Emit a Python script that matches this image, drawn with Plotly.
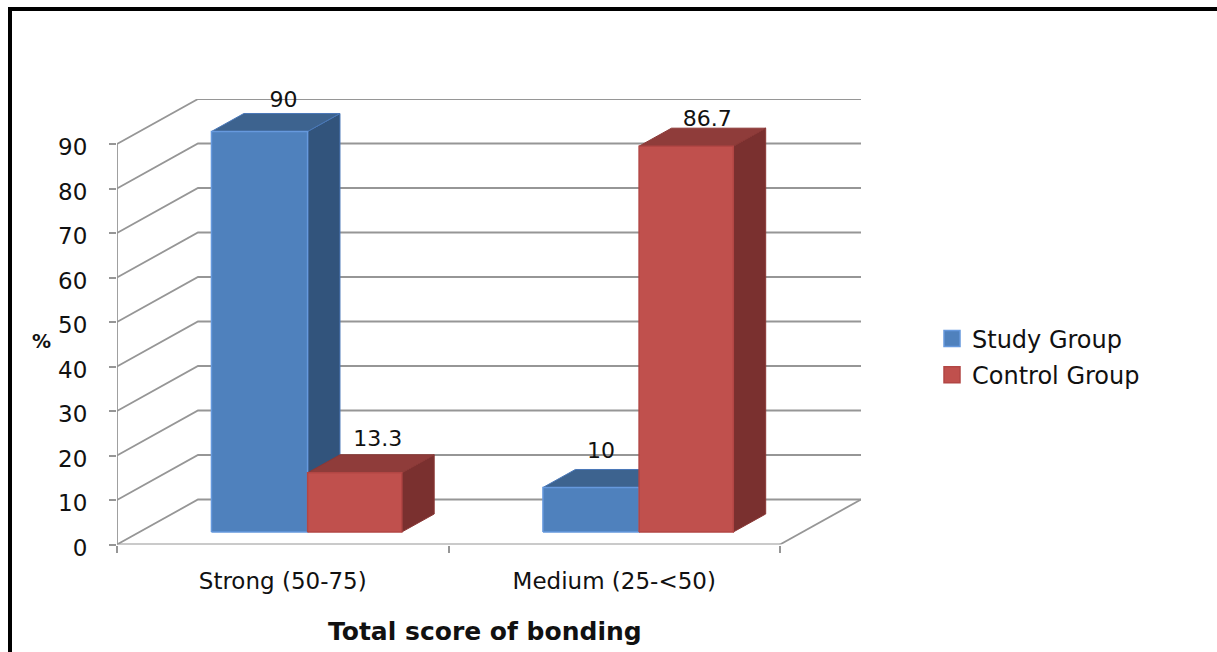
import plotly.graph_objects as go

# Chart data
categories = ["Strong (50-75)", "Medium (25-<50)"]
series_names = ["Study Group", "Control Group"]
study_values = [90, 10]
control_values = [13.3, 86.7]
value_ticks = [0, 10, 20, 30, 40, 50, 60, 70, 80, 90]

W, H = 1217, 652
FONT = "DejaVu Sans"
TEXT_SIZE = 23

# Pixel placement of the front plane of the axes
PLOT_LEFT, PLOT_BOTTOM = 117, 544.5
CAT_PX = 331.5
VAL_PX = 4.45

# Oblique projection: moving one depth unit shifts a point right and upward
DEPTH_X = 81 / CAT_PX
DEPTH_Y = 45 / VAL_PX
X_MAX = len(categories) + DEPTH_X
Y_MAX = max(value_ticks) + DEPTH_Y

# Bars occupy this slice of the floor depth, and this slice of each category
BAR_Z0, BAR_Z1 = 0.278, 0.678
BAR_START, BAR_WIDTH = 0.217, 0.29

BLUE = dict(front="#4F81BD", top="#3D638F", side="#32547C", edge="#6699DD", side_edge="#4A78B8")
RED = dict(front="#C0504D", top="#8F3C3A", side="#7A302F", edge="#B24644", side_edge="#8A3836")
GRID = "#969696"


def project(pos, value, z):
    return pos + z * DEPTH_X, value + z * DEPTH_Y


def polygon(points, fill, edge, width=1.5):
    xs, ys = zip(*[project(*p) for p in points + points[:1]])
    return go.Scatter(x=xs, y=ys, mode="lines", fill="toself", fillcolor=fill,
                      line=dict(color=edge, width=width), showlegend=False, hoverinfo="skip")


def box_faces(left, right, value, palette):
    """Side, top and front faces of one bar, painted back to front."""
    return [
        polygon([(right, 0, BAR_Z0), (right, 0, BAR_Z1), (right, value, BAR_Z1), (right, value, BAR_Z0)],
                palette["side"], palette["side_edge"], 1),
        polygon([(left, value, BAR_Z0), (left, value, BAR_Z1), (right, value, BAR_Z1), (right, value, BAR_Z0)],
                palette["top"], palette["side_edge"], 1),
        polygon([(left, 0, BAR_Z0), (right, 0, BAR_Z0), (right, value, BAR_Z0), (left, value, BAR_Z0)],
                palette["front"], palette["edge"], 1.5),
    ]


fig = go.Figure()

# Side wall and back wall gridlines
for v in value_ticks:
    xs, ys = zip(*[project(0, v, 0), project(0, v, 1), project(len(categories), v, 1)])
    fig.add_trace(go.Scatter(x=xs, y=ys, mode="lines", line=dict(color=GRID, width=1.8),
                             showlegend=False, hoverinfo="skip"))

# Right edge of the floor, then the two front axis lines
for a, b in [
    (project(len(categories), 0, 1), project(len(categories), 0, 0)),
    (project(0, 0, 0), project(len(categories), 0, 0)),
    (project(0, 0, 0), project(0, max(value_ticks), 0)),
]:
    fig.add_trace(go.Scatter(x=[a[0], b[0]], y=[a[1], b[1]], mode="lines",
                             line=dict(color=GRID, width=1.8), showlegend=False, hoverinfo="skip"))

# Bars, left to right
for i in range(len(categories)):
    left = i + BAR_START
    mid = left + BAR_WIDTH
    right = mid + BAR_WIDTH * 0.98
    for face in box_faces(left, mid, study_values[i], BLUE):
        fig.add_trace(face)
    for face in box_faces(mid, right, control_values[i], RED):
        fig.add_trace(face)

# Value labels, with per-bar nudges in pixels from the bar's front top centre
label_nudge_x = {"Study Group": [24, 10], "Control Group": [22, 20]}
label_nudge_y = {"Study Group": [30, 35], "Control Group": [32, 26]}
for s, (name, values) in enumerate(zip(series_names, [study_values, control_values])):
    lx, ly, txt = [], [], []
    for i, v in enumerate(values):
        cx, cy = project(i + BAR_START + BAR_WIDTH * (s + 0.5), v, BAR_Z0)
        lx.append(cx + label_nudge_x[name][i] / CAT_PX)
        ly.append(cy + label_nudge_y[name][i] / VAL_PX)
        txt.append(str(v))
    fig.add_trace(go.Scatter(x=lx, y=ly, mode="text", text=txt, textposition="middle center",
                             textfont=dict(family=FONT, size=TEXT_SIZE - 1, color="#111111"),
                             cliponaxis=False, showlegend=False, hoverinfo="skip"))

# Legend swatches
for name, palette in zip(series_names, [BLUE, RED]):
    fig.add_trace(go.Scatter(x=[None], y=[None], mode="markers", name=name, legendgroup=name,
                             marker=dict(symbol="square", size=16, color=palette["front"],
                                         line=dict(color=palette["edge"], width=1.5))))


def px(x):
    return x / W


def py(y):
    return 1 - y / H


fig.update_layout(
    width=W, height=H,
    margin=dict(l=0, r=0, t=0, b=0, autoexpand=False),
    paper_bgcolor="white", plot_bgcolor="white",
    font=dict(family=FONT, size=TEXT_SIZE, color="#111111"),
    xaxis=dict(
        domain=[px(PLOT_LEFT), px(PLOT_LEFT + X_MAX * CAT_PX)],
        range=[0, X_MAX],
        showgrid=False, zeroline=False, showline=False,
        tickvals=[i + 0.5 for i in range(len(categories))],
        ticktext=categories, ticks="", ticklabelstandoff=20,
        tickfont=dict(family=FONT, size=TEXT_SIZE, color="#111111"),
        minor=dict(tickvals=list(range(len(categories) + 1)), ticks="outside",
                   ticklen=7, tickwidth=1.8, tickcolor=GRID, showgrid=False),
    ),
    yaxis=dict(
        domain=[py(PLOT_BOTTOM), py(PLOT_BOTTOM - Y_MAX * VAL_PX)],
        range=[0, Y_MAX],
        showgrid=False, zeroline=False, showline=False,
        tickvals=value_ticks, ticks="outside", ticklen=7, tickwidth=1.8, tickcolor=GRID,
        ticklabelstandoff=17, ticklabelshift=3,
        tickfont=dict(family=FONT, size=TEXT_SIZE, color="#111111"),
    ),
    legend=dict(x=px(932), xanchor="left", y=py(357), yanchor="middle",
                bgcolor="rgba(0,0,0,0)", font=dict(family=FONT, size=TEXT_SIZE + 1),
                tracegroupgap=2, itemclick=False, itemdoubleclick=False),
    shapes=[
        dict(type="line", xref="paper", yref="paper", x0=px(10), x1=px(10), y0=0, y1=py(7),
             line=dict(color="black", width=4)),
        dict(type="line", xref="paper", yref="paper", x0=px(8), x1=1, y0=py(9), y1=py(9),
             line=dict(color="black", width=4)),
    ],
    annotations=[
        dict(text="<b>Total score of bonding</b>", xref="paper", yref="paper", x=px(485), y=py(631),
             xanchor="center", yanchor="middle", showarrow=False,
             font=dict(family=FONT, size=25, color="#111111")),
        dict(text="<b>%</b>", xref="paper", yref="paper", x=px(41), y=py(341),
             xanchor="center", yanchor="middle", showarrow=False,
             font=dict(family=FONT, size=19, color="#111111")),
    ],
)

fig.write_html("out.html")
